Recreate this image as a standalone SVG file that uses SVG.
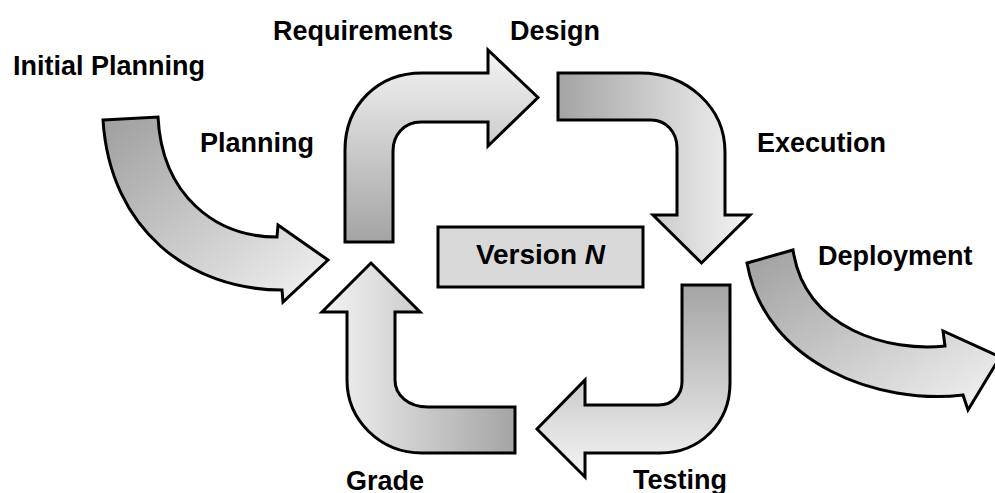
<svg xmlns="http://www.w3.org/2000/svg" width="995" height="493" viewBox="0 0 995 493">
<style>
.lbl{font-family:"Liberation Sans",Arial,sans-serif;font-weight:bold;font-size:27px;fill:#000}
.arr{stroke:#000;stroke-width:3;stroke-linejoin:miter}
.box{fill:#d9d9d9;stroke:#000;stroke-width:3}
</style>
<defs>
<linearGradient id="gDiag" x1="0" y1="0" x2="1" y2="1">
<stop offset="0" stop-color="#9e9e9e"/><stop offset="1" stop-color="#f4f4f4"/>
</linearGradient>
<linearGradient id="gDown" x1="0" y1="0" x2="0" y2="1">
<stop offset="0" stop-color="#a4a4a4"/><stop offset="1" stop-color="#f4f4f4"/>
</linearGradient>
<linearGradient id="gUp" x1="0" y1="1" x2="0" y2="0">
<stop offset="0" stop-color="#a4a4a4"/><stop offset="1" stop-color="#f4f4f4"/>
</linearGradient>
<linearGradient id="gRight" x1="0" y1="0" x2="1" y2="0">
<stop offset="0" stop-color="#a4a4a4"/><stop offset="1" stop-color="#f4f4f4"/>
</linearGradient>
<linearGradient id="gLeft" x1="1" y1="0" x2="0" y2="0">
<stop offset="0" stop-color="#a4a4a4"/><stop offset="1" stop-color="#f4f4f4"/>
</linearGradient>
</defs>
<rect width="995" height="493" fill="#fff"/>
<g id="connectors">
<path id="arrow-planning" class="arr" fill="url(#gDiag)" d="M103,120 L158,117 C162,195 215,237 277,237 L278,225 L328,260 L283,302 L282,290 C190,290 110,230 103,120 Z"/>
<path id="arrow-requirements" class="arr" fill="url(#gUp)" d="M345,242 L345,150 C345,105 378,73 422,73 L488,73 L488,50 L538,97.5 L488,146 L488,122 L421,122 C404,122 393,135 393,151 L393,242 Z"/>
<path id="arrow-design" class="arr" fill="url(#gRight)" d="M558,73 L640,73 C688,73 725,108 725,152 L725,215 L750,215 L701.5,263 L653,215 L677,215 L677,148 C677,132 666,120 651,120 L558,120 Z"/>
<path id="arrow-testing" class="arr" fill="url(#gDown)" d="M682,285 L730,285 L730,383 C730,423 700,453 660,453 L585,453 L585,477 L537,429 L585,380 L585,405 L659,405 C672,405 682,395 682,382 Z"/>
<path id="arrow-grade" class="arr" fill="url(#gLeft)" d="M371,263 L420,312 L395,312 L395,380 C395,395 408,407 428,407 L515,407 L515,453 L422,453 C380,453 347,420 347,380 L347,312 L322,312 Z"/>
<path id="arrow-deployment" class="arr" fill="url(#gDiag)" d="M747,263 L793,250 C805,330 890,352 945,346 L943,331 L1000,357 L968,410 L963,395 C880,405 765,365 747,263 Z"/>
</g>
<g id="node-initial-planning"><text class="lbl" x="13" y="75">Initial Planning</text></g>
<g id="node-requirements"><text class="lbl" x="273" y="40">Requirements</text></g>
<g id="node-design"><text class="lbl" x="510" y="40">Design</text></g>
<g id="node-planning"><text class="lbl" x="200" y="152">Planning</text></g>
<g id="node-execution"><text class="lbl" x="757" y="152">Execution</text></g>
<g id="node-deployment"><text class="lbl" x="818" y="265">Deployment</text></g>
<g id="node-grade"><text class="lbl" x="346" y="490">Grade</text></g>
<g id="node-testing"><text class="lbl" x="633" y="489">Testing</text></g>
<g id="node-version">
<rect class="box" x="438" y="227" width="205" height="60"/>
<text class="lbl" x="540.5" y="264" text-anchor="middle" font-size="28" style="font-size:28px">Version <tspan font-style="italic">N</tspan></text>
</g>
</svg>
